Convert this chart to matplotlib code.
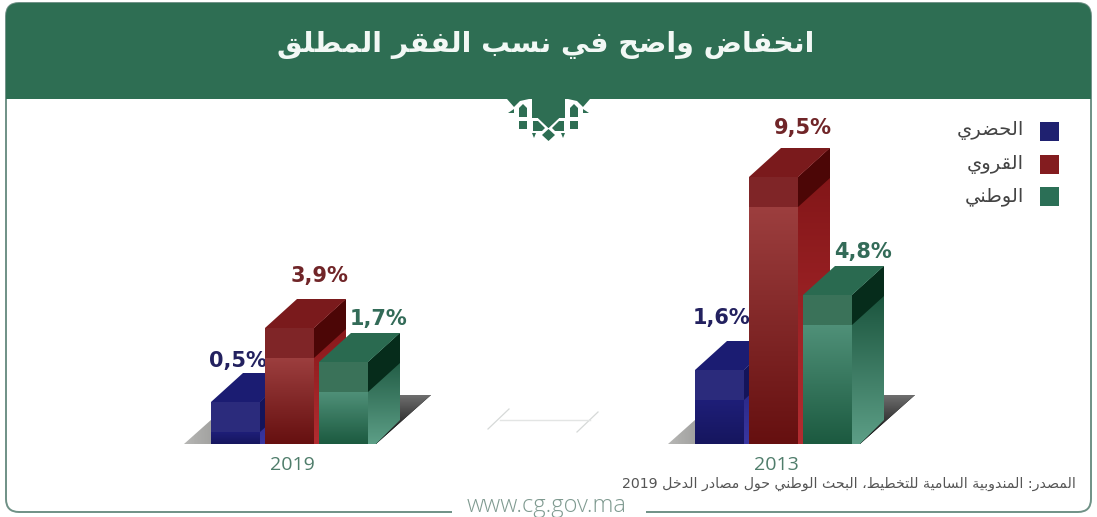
import unicodedata
import numpy as np
import matplotlib
matplotlib.use("Agg")
import matplotlib.pyplot as plt
from matplotlib.colors import to_rgb, LinearSegmentedColormap
from matplotlib.patches import FancyBboxPatch, Polygon, Rectangle

# chart data, labels as printed in the picture
years = ["2013", "2019"]
labels_2013 = ["1,6%", "9,5%", "4,8%"]
labels_2019 = ["0,5%", "3,9%", "1,7%"]
# drawn bar heights (the bars are not to scale with the labels)
heights_2013 = [74, 267, 149]
heights_2019 = [42, 116, 82]
series_names = ["الحضري", "القروي", "الوطني"]
title_text = "انخفاض واضح في نسب الفقر المطلق"
source_text = "المصدر: المندوبية السامية للتخطيط، البحث الوطني حول مصادر الدخل"
source_year = "2019"
site_text = "www.cg.gov.ma"

GREEN = "#2e6e53"
FRAME = "#6f9186"
BASE_Y = 444
BAR_W = 49
DX, DY = 32, 29
BAND = 30

# colours per series: label, top face, front band, front top, front bottom,
# side band, side top, side bottom, legend
styles = [
    dict(label="#23215f", top="#1b1c72", band="#2b2b7c", f0="#1e1e78", f1="#16165e",
         sband="#14145a", s0="#1c1c70", s1="#3a36a0", leg="#1f2170"),
    dict(label="#702528", top="#7a1a1c", band="#7f2527", f0="#9c3e3e", f1="#661010",
         sband="#4c0606", s0="#7e1416", s1="#b22c30", leg="#831c1f"),
    dict(label="#336b58", top="#2a6a50", band="#3a7259", f0="#4f9078", f1="#1c5a40",
         sband="#062c1b", s0="#0f4730", s1="#5c9e86", leg="#2b6f56"),
]

FORMS = {}
for cp in range(0xFE70, 0xFEFD):
    d = unicodedata.decomposition(chr(cp)).split()
    if len(d) == 2 and d[0] in ("<isolated>", "<final>", "<initial>", "<medial>"):
        FORMS.setdefault(chr(int(d[1], 16)), {})[d[0][1:-1]] = chr(cp)
NO_NEXT = set("اأإآدذرزوؤةى")


def shape(text):
    # matplotlib has no arabic shaping, so pick the presentation forms by hand
    text = text.replace("لا", "\ufefb")
    out = []
    for i, ch in enumerate(text):
        prev = text[i - 1] if i > 0 else " "
        nxt = text[i + 1] if i < len(text) - 1 else " "
        joins_prev = (prev in FORMS) and prev not in NO_NEXT and prev != "\ufefb"
        if ch == "\ufefb":
            out.append("\ufefc" if joins_prev else "\ufefb")
            continue
        if ch not in FORMS:
            out.append(ch)
            continue
        joins_next = ch not in NO_NEXT and (nxt in FORMS or nxt == "\ufefb")
        key = {(0, 0): "isolated", (1, 0): "final", (0, 1): "initial", (1, 1): "medial"}[
            (int(joins_prev), int(joins_next))]
        out.append(FORMS[ch].get(key, ch))
    return "".join(reversed(out))


def grad(ax, patch, c0, c1, z, horizontal=False):
    # vertical gradient clipped to a patch
    cmap = LinearSegmentedColormap.from_list("g", [to_rgb(c0), to_rgb(c1)])
    xy = patch.get_path().vertices
    xy = patch.get_patch_transform().transform(xy)
    arr = np.linspace(0, 1, 64).reshape(-1, 1)
    if horizontal:
        arr = arr.T
    im = ax.imshow(arr, cmap=cmap, aspect="auto", zorder=z, interpolation="bilinear",
                   extent=(xy[:, 0].min(), xy[:, 0].max(), xy[:, 1].max(), xy[:, 1].min()))
    im.set_clip_path(patch)


fig = plt.figure(figsize=(10.97, 5.17), dpi=100)
ax = fig.add_axes([0, 0, 1, 1])

# header and frame
ax.add_patch(FancyBboxPatch((6, 3), 1085, 509, boxstyle="round,pad=0,rounding_size=13",
                            fc="white", ec=FRAME, lw=1.4, zorder=1))
header = FancyBboxPatch((6, 3), 1085, 150, boxstyle="round,pad=0,rounding_size=13",
                        fc=GREEN, ec="none", zorder=1.1)
ax.add_patch(header)
header.set_clip_path(Rectangle((0, 0), 1097, 99, transform=ax.transData))
ax.add_patch(Rectangle((452, 505), 194, 12, fc="white", ec="none", zorder=1.3))


def mirrored(points):
    # ornament is symmetric around the middle of the figure
    return [(1097 - x, y) for x, y in points]


# ornament under the header
ornament_green = [
    [(532, 99), (565, 99), (565, 118), (559, 118), (548.5, 128), (538, 118), (532, 118)],
    [(507, 99), (529, 99), (520, 101), (514, 107)],
    [(519, 108), (523, 104), (527, 108), (527, 117), (519, 117)],
    [(519, 121), (527, 121), (527, 129), (519, 129)],
    [(533, 121), (538, 121), (545, 128), (542, 131), (533, 131)],
    [(508, 113), (514, 109), (514, 113)],
    [(532, 133), (536, 133), (534, 138)],
]
for pts in ornament_green:
    ax.add_patch(Polygon(pts, fc=GREEN, ec="none", zorder=2))
    ax.add_patch(Polygon(mirrored(pts), fc=GREEN, ec="none", zorder=2))
ax.add_patch(Polygon([(548.5, 129), (555, 135), (548.5, 141), (542, 135)], fc=GREEN, ec="none", zorder=2))

ax.text(546, 45, shape(title_text), color="#f2f8f5", fontsize=20.5, fontweight="bold",
        family="DejaVu Sans", ha="center", va="center", zorder=3)

# separator between the two groups
ax.plot([488, 509], [429, 409], color="#d6d9d8", lw=0.9)
ax.plot([577, 598], [432, 412], color="#d6d9d8", lw=0.9)
ax.plot([500, 590], [420, 420], color="#e3e5e4", lw=1)


def draw_group(x0, year, labels, heights, pads):
    lefts = [x0, x0 + 54, x0 + 108]

    # floor, grey on the left and dark under the bars
    floor = Polygon([(x0 - 27, BASE_Y), (x0 + 165, BASE_Y), (x0 + 220, BASE_Y - 49), (x0 + 28, BASE_Y - 49)],
                    fc="none", ec="none", zorder=3)
    ax.add_patch(floor)
    grad(ax, floor, "#b5b5b3", "#000000", 3, horizontal=True)
    floor_r = Polygon([(x0 + 150, BASE_Y), (x0 + 165, BASE_Y), (x0 + 220, BASE_Y - 49), (x0 + 150, BASE_Y - 49)],
                      fc="none", ec="none", zorder=3.1)
    ax.add_patch(floor_r)
    grad(ax, floor_r, "#6e6e6e", "#000000", 3.1)

    for i, (left, h, st) in enumerate(zip(lefts, heights, styles)):
        z = 4 + i * 2
        top_y = BASE_Y - h
        # bar through the axes, front face gets a gradient on top
        ax.bar(left, -h, width=BAR_W, bottom=BASE_Y, align="edge", color=st["f1"], zorder=z)
        right = left + BAR_W

        # side foot follows the floor edge
        side = Polygon([(right, BASE_Y), (right + 8, BASE_Y), (right + DX, BASE_Y - 24),
                        (right + DX, top_y - DY), (right, top_y)],
                       fc="none", ec="none", zorder=z)
        ax.add_patch(side)
        grad(ax, side, st["s0"], st["s1"], z)
        side_band = Polygon([(right, top_y), (right + DX, top_y - DY), (right + DX, top_y - DY + BAND),
                             (right, top_y + BAND)], fc=st["sband"], ec="none", zorder=z + 0.2)
        ax.add_patch(side_band)

        lower = Rectangle((left, top_y + BAND), BAR_W, h - BAND, fc="none", ec="none", zorder=z + 0.1)
        ax.add_patch(lower)
        grad(ax, lower, st["f0"], st["f1"], z + 0.1)
        ax.add_patch(Rectangle((left, top_y), BAR_W, BAND, fc=st["band"], ec="none", zorder=z + 0.2))
        ax.add_patch(Polygon([(left, top_y), (right, top_y), (right + DX, top_y - DY), (left + DX, top_y - DY)],
                             fc=st["top"], ec="none", zorder=z + 0.2))

        lab_x = left + [27, 54, 60][i]
        lab_y = top_y - DY - pads[i]
        ax.text(lab_x, lab_y, labels[i], color=st["label"], fontsize=15, fontweight="bold",
                family="DejaVu Sans", ha="center", va="center", zorder=z + 1.5 if i == 0 else 12)

    ax.text(x0 + 81, 465, year, color="#4f7d6b", fontsize=14, family="Open Sans",
            ha="center", va="center", zorder=3)


draw_group(695, years[0], labels_2013, heights_2013, [23, 20, 14])
draw_group(211, years[1], labels_2019, heights_2019, [12, 23, 14])

# legend
for name, st, y in zip(series_names, styles, [131, 164, 196]):
    ax.add_patch(Rectangle((1040, y - 9.5), 19, 19, fc=st["leg"], ec="none", zorder=3))
    ax.text(1024, y, shape(name), color="#444444", fontsize=14, family="DejaVu Sans",
            ha="right", va="center", zorder=3)

# source line and site
ax.text(1076, 484, source_year + " " + shape(source_text), color="#555555", fontsize=10.2,
        family="DejaVu Sans", ha="right", va="center", zorder=3)
ax.text(547, 506, site_text, color="#7f9a90", fontsize=17, family="Open Sans",
        ha="center", va="center", zorder=3, fontweight="light")

ax.set_xlim(0, 1097)
ax.set_ylim(517, 0)
ax.axis("off")
fig.savefig("out.png", dpi=100)
